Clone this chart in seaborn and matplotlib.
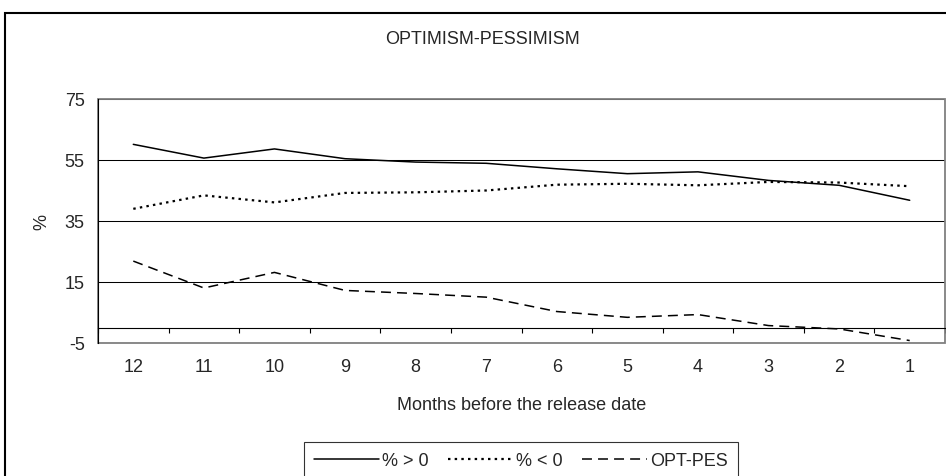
import numpy as np
import pandas as pd
import seaborn as sns
import matplotlib
matplotlib.use("Agg")
import matplotlib.pyplot as plt
from matplotlib.patches import Rectangle
from matplotlib.ticker import FixedLocator

# Months before the release date (x categories)
months = ["12", "11", "10", "9", "8", "7", "6", "5", "4", "3", "2", "1"]

# Shares of forecasters (%)
share_positive = [60.0, 55.5, 58.5, 55.3, 54.2, 53.8, 52.0, 50.4, 51.0, 48.2, 46.6, 41.7]
share_negative = [38.9, 43.3, 41.0, 44.1, 44.3, 44.9, 46.8, 47.1, 46.6, 47.7, 47.5, 46.3]
opt_pes = [21.8, 13.0, 18.1, 12.2, 11.2, 10.0, 5.3, 3.4, 4.3, 0.7, -0.4, -4.2]

series_names = ["% > 0", "% < 0", "OPT-PES"]
y_ticks = [-5, 15, 35, 55, 75]

df = pd.DataFrame({
    "month": months * 3,
    "value": share_positive + share_negative + opt_pes,
    "series": np.repeat(series_names, len(months)),
})

sns.set_style("white")
plt.rcParams["font.family"] = ["Liberation Sans", "DejaVu Sans"]
FS = 13

W, H = 946, 477
fig = plt.figure(figsize=(W / 100, H / 100), dpi=100)
ax_l, ax_r, ax_t, ax_b = 98, 945, 99.5, 344
ax = fig.add_axes([ax_l / W, 1 - ax_b / H, (ax_r - ax_l) / W, (ax_b - ax_t) / H])

sns.lineplot(
    data=df, x="month", y="value", hue="series", style="series", size="series",
    palette={n: "black" for n in series_names},
    sizes={"% > 0": 1.1, "% < 0": 1.6, "OPT-PES": 1.1},
    dashes={"% > 0": "", "% < 0": (1.1, 1.9), "OPT-PES": (6.5, 4)},
    ax=ax, sort=False,
)
handles, labels = ax.get_legend_handles_labels()
ax.get_legend().remove()

ax.set_xlim(-0.5, len(months) - 0.5)
ax.set_ylim(y_ticks[0], y_ticks[-1])
ax.set_yticks(y_ticks)
ax.set_yticklabels([str(v) for v in y_ticks], fontsize=FS)
ax.tick_params(axis="y", length=3.6, width=0.8, direction="out", pad=6, color="black")

# category axis crosses at zero with ticks between categories
ax.spines["bottom"].set_position(("data", 0))
ax.spines["bottom"].set_color("black")
ax.spines["bottom"].set_linewidth(0.8)
ax.xaxis.set_minor_locator(FixedLocator(np.arange(-0.5, len(months), 1.0)))
ax.tick_params(axis="x", which="major", length=0, pad=22, labelsize=FS)
ax.tick_params(axis="x", which="minor", length=3.6, width=0.8, direction="out",
               color="black", bottom=True)
ax.spines["left"].set_color("black")
ax.spines["left"].set_linewidth(0.8)
for s in ("top", "right"):
    ax.spines[s].set_visible(False)

# horizontal gridlines
ax.yaxis.grid(True, color="black", linewidth=0.75)
ax.set_axisbelow(True)

# plot-area frame
ax.add_patch(Rectangle((0, 0), 1, 1, transform=ax.transAxes, fill=False,
                       edgecolor="#808080", linewidth=1.3, clip_on=False, zorder=1.5))

ax.set_xlabel("Months before the release date", fontsize=FS)
ax.xaxis.set_label_coords(0.5, (ax_b - 405) / (ax_b - ax_t))
ax.xaxis.label.set_verticalalignment("center")
ax.set_ylabel("%", fontsize=FS)
ax.yaxis.set_label_coords((42 - ax_l) / (ax_r - ax_l), 0.5)
ax.yaxis.label.set_verticalalignment("center")

fig.text(482 / W, 1 - 40 / H, "OPTIMISM-PESSIMISM", ha="center", va="center", fontsize=FS)

leg = fig.legend(
    handles, labels, loc="upper center", bbox_to_anchor=(521 / W, 1 - 443 / H),
    ncol=3, fontsize=FS, frameon=True, fancybox=False, shadow=False,
    handlelength=3.6, handletextpad=0.15, columnspacing=1.1, borderpad=0.55,
    borderaxespad=0,
)
leg.get_frame().set_edgecolor("black")
leg.get_frame().set_linewidth(0.8)
leg.get_frame().set_boxstyle("square", pad=0)

# outer chart frame
fig.patches.append(Rectangle((5 / W, -0.1), 1.1, 1 - 14 / H + 0.1, transform=fig.transFigure,
                             fill=False, edgecolor="black", linewidth=1.5, zorder=0))

fig.savefig("out.png", dpi=100)
